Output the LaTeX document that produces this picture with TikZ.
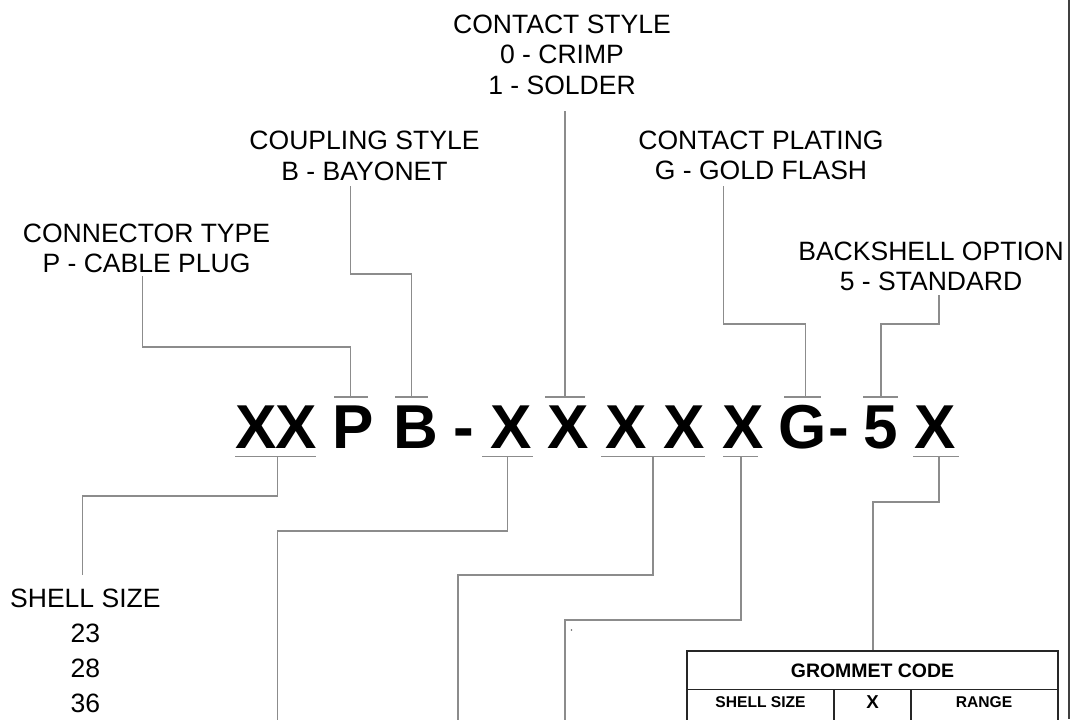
\documentclass[tikz,border=0pt]{standalone}
\usepackage{fontspec}
\setmainfont{Liberation Sans}
\usetikzlibrary{positioning}

\begin{document}
\begin{tikzpicture}[x=0.75pt,y=-0.75pt,
  head/.style={align=center,anchor=north,inner sep=0pt,font=\fontsize{19.9}{22.9}\selectfont},
  code/.style={anchor=base,inner sep=0pt,font=\fontsize{46.5}{50}\selectfont\bfseries},
  lead/.style={draw=black!45,line width=1pt},
  grid/.style={draw=black!85,line width=0.8pt},
  cell/.style={inner sep=0pt,font=\fontsize{11.7}{13}\selectfont\bfseries}]
  \path[use as bounding box,clip] (0,0) rectangle (1077,719);

  % part number
  \node[code] (xa) at (256,448) {X};
  \node[code] (xb) at (296,448) {X};
  \node[code] (p)  at (353,448) {P};
  \node[code] (b)  at (416,448) {B};
  \node[code] (d1) at (464,448) {-};
  \node[code] (x1) at (511,448) {X};
  \node[code] (x2) at (568,448) {X};
  \node[code] (x3) at (626,448) {X};
  \node[code] (x4) at (684,448) {X};
  \node[code] (x5) at (743,448) {X};
  \node[code] (g)  at (803,448) {G};
  \node[code] (d2) at (839,448) {-};
  \node[code] (f)  at (881,448) {5};
  \node[code] (x6) at (935,448) {X};

  % headings
  \node[head] (cstyle) at (562,14.5) {CONTACT STYLE\\0 - CRIMP\\1 - SOLDER};
  \node[head] (coupl) at (364.5,131) {COUPLING STYLE\\B - BAYONET};
  \node[head] (ctype) at (146.5,223.5) {CONNECTOR TYPE\\P - CABLE PLUG};
  \node[head] (plat) at (761,130.5) {CONTACT PLATING\\G - GOLD FLASH};
  \node[head] (backsh) at (931,241.5) {BACKSHELL OPTION\\5 - STANDARD};
  \node[head,font=\fontsize{19.9}{26.2}\selectfont] (shell) at (85.4,589) {SHELL SIZE\\23\\28\\36};

  % ticks above
  \coordinate (tp) at (350.7,397);
  \coordinate (tb) at (411.7,397);
  \coordinate (tx) at (565,397);
  \coordinate (tg) at (805.5,397);
  \coordinate (tf) at (881,397);
  \draw[lead] (334,397) -- (368,397) (395,397) -- (428,397) (545,397) -- (585,397)
    (784,397) -- (821,397) (863,397) -- (898,397);
  \draw[lead] (142.7,276) |- (tp |- 0,347) -- (tp);
  \draw[lead] (350.7,186) |- (tb |- 0,274) -- (tb);
  \draw[lead] (565,111) -- (tx);
  \draw[lead] (723.5,186) |- (tg |- 0,324) -- (tg);
  \draw[lead] (939,295) |- (tf |- 0,324) -- (tf);

  % underlines below
  \coordinate (ua) at (277.5,456.5);
  \coordinate (ub) at (507.6,456.5);
  \coordinate (uc) at (653,456.5);
  \coordinate (ud) at (741,456.5);
  \coordinate (ue) at (939,456.5);
  \draw[lead] (235,456.5) -- (316,456.5) (482,456.5) -- (533,456.5) (601,456.5) -- (705,456.5)
    (723,456.5) -- (758,456.5) (913,456.5) -- (959,456.5);
  \draw[lead] (ua) |- (82.3,496) -- (82.3,575);
  \draw[lead] (ub) |- (277.5,531) -- (277.5,725);
  \draw[lead] (uc) |- (458,575) -- (458,725);
  \draw[lead] (ud) |- (565,620) -- (565,725);
  \draw[lead] (ue) |- (873,502) -- (873,651);
  \fill[black!60] (571.5,630) circle (0.8);

  % grommet table
  \draw[grid] (687,651) rectangle (1058,730);
  \draw[grid] (687,689.3) -- (1058,689.3);
  \draw[grid] (834,689.3) -- (834,730) (911,689.3) -- (911,730);
  \node[cell,font=\fontsize{14.6}{16}\selectfont\bfseries] (gcode) at (872.5,670.5) {GROMMET CODE};
  \node[cell] (gsize) at (760.5,701.7) {SHELL SIZE};
  \node[cell,font=\fontsize{14}{16}\selectfont\bfseries] (gx) at (872.5,701.7) {X};
  \node[cell] (grange) at (984,701.7) {RANGE};

  % frame edge
  \draw[black!75,line width=1.1pt] (1069,0) -- (1069,719);
\end{tikzpicture}
\end{document}
